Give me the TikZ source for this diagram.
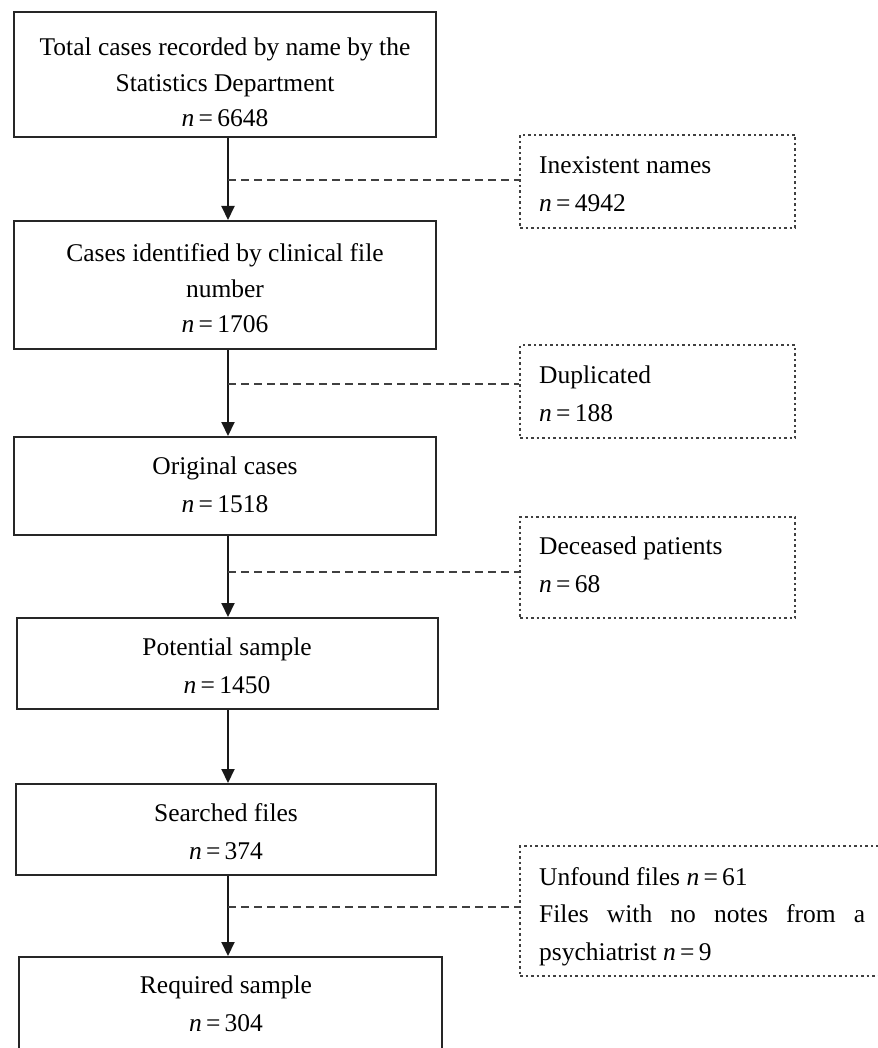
\documentclass[tikz,border=0pt]{standalone}
\usepackage{fontspec}
\setmainfont{Liberation Serif}
\usetikzlibrary{arrows.meta,calc}
\begin{document}
\begin{tikzpicture}[x=1pt,y=-1pt,
  box/.style={draw=black!85, line width=2pt, inner sep=0pt},
  notebox/.style={draw=black!75, line width=1.3pt, dash pattern=on 2.5pt off 3pt, inner sep=0pt},
  ctxt/.style={align=center, inner sep=0pt, font=\fontsize{25.5}{38}\selectfont},
  ctxtthree/.style={align=center, inner sep=0pt, font=\fontsize{25.5}{35.5}\selectfont},
  ltxt/.style={align=left, inner sep=0pt, anchor=west, font=\fontsize{25.5}{38}\selectfont},
  arr/.style={draw=black!90, line width=2pt, -{Triangle[width=13pt,length=14pt]}},
  link/.style={draw=black!75, line width=1.6pt, dash pattern=on 8pt off 5pt},
]
\useasboundingbox (0,0) rectangle (877,1048);
\fill[white] (0,0) rectangle (877,1048);

% axis and junctions
\coordinate (ax) at (228,0);
\coordinate (j1) at (228,180);
\coordinate (j2) at (228,384);
\coordinate (j3) at (228,572);
\coordinate (j4) at (228,907);

% main boxes
\node[box, minimum width=422pt, minimum height=125pt] (b1) at (225,74.5) {};
\node[box, minimum width=422pt, minimum height=128pt] (b2) at (225,285) {};
\node[box, minimum width=422pt, minimum height=98pt] (b3) at (225,486) {};
\node[box, minimum width=421pt, minimum height=91pt] (b4) at (227.5,663.5) {};
\node[box, minimum width=420pt, minimum height=91pt] (b5) at (226,829.5) {};
\node[box, minimum width=423pt, minimum height=108pt] (b6) at (230.5,1011) {};

% texts of main boxes
\node[ctxtthree] (t1) at (225,84) {\strut Total cases recorded by name by the\\ Statistics Department\\ \textit{n}\,=\,6648\strut};
\node[ctxtthree] (t2) at (225,290) {\strut Cases identified by clinical file\\ number\\ \textit{n}\,=\,1706\strut};
\node[ctxt] (t3) at (225,485.4) {\strut Original cases\\ \textit{n}\,=\,1518\strut};
\node[ctxt] (t4) at (227,666.4) {\strut Potential sample\\ \textit{n}\,=\,1450\strut};
\node[ctxt] (t5) at (226,832.4) {\strut Searched files\\ \textit{n}\,=\,374\strut};
\node[ctxt] (t6) at (226,1004.9) {\strut Required sample\\ \textit{n}\,=\,304\strut};

% side (excluded) boxes
\node[notebox, minimum width=275pt, minimum height=93pt] (dA) at (657.5,181.5) {};
\node[notebox, minimum width=275pt, minimum height=93pt] (dB) at (657.5,391.5) {};
\node[notebox, minimum width=275pt, minimum height=101pt] (dC) at (657.5,567.5) {};
\node[notebox, minimum width=370pt, minimum height=130pt] (dD) at (705,911) {};

\node[ltxt] (tA) at (539,184.9) {\strut Inexistent names\\ \textit{n}\,=\,4942\strut};
\node[ltxt] (tB) at (539,394.4) {\strut Duplicated\\ \textit{n}\,=\,188\strut};
\node[ltxt] (tC) at (539,565.9) {\strut Deceased patients\\ \textit{n}\,=\,68\strut};
\node[ltxt, font=\fontsize{25.5}{37.5}\selectfont] (tD) at (539,915) {\strut Unfound files \textit{n}\,=\,61\\ \makebox[326pt][s]{Files with no notes from a}\\ psychiatrist \textit{n}\,=\,9\strut};

% arrows
\draw[arr] (b1.south -| ax) -- (b2.north -| ax);
\draw[arr] (b2.south -| ax) -- (b3.north -| ax);
\draw[arr] (b3.south -| ax) -- (b4.north -| ax);
\draw[arr] (b4.south -| ax) -- (b5.north -| ax);
\draw[arr] (b5.south -| ax) -- (b6.north -| ax);

% dashed links
\draw[link] (j1) -- (j1 -| dA.west);
\draw[link] (j2) -- (j2 -| dB.west);
\draw[link] (j3) -- (j3 -| dC.west);
\draw[link] (j4) -- (j4 -| dD.west);
\end{tikzpicture}
\end{document}
